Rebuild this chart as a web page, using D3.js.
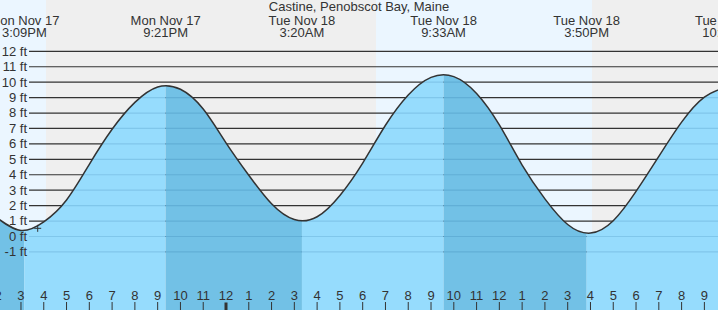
<!DOCTYPE html>
<html>
<head>
<meta charset="utf-8">
<script src="https://cdn.jsdelivr.net/npm/d3@7"></script>
<style>
  html, body { margin: 0; padding: 0; background: #fff; }
  svg { display: block; font-family: "Liberation Sans", Arial, sans-serif; }
</style>
</head>
<body>
<svg id="chart" width="718" height="310"></svg>
<script>
// ---------------- data ----------------
const title = "Castine, Penobscot Bay, Maine";

// hourly predicted heights (ft), first sample at 2 PM Mon Nov 17
const firstHour = "2025-11-17T14:00";
const hourlyHeights = [1.15, 0.39, 0.95, 2.37, 4.68, 6.95, 8.69, 9.69, 9.54, 8.26,
                       6.07, 3.97, 2.12, 1.10, 1.28, 2.66, 4.76, 7.21, 9.17, 10.31,
                       10.36, 9.27, 7.23, 4.63, 2.44, 0.78, 0.22, 1.02, 2.92, 5.19,
                       7.41, 9.03, 9.70];

// high / low tide events
const extremeTimes = ["2025-11-17T15:09", "2025-11-17T21:21", "2025-11-18T03:20",
                      "2025-11-18T09:33", "2025-11-18T15:50", "2025-11-18T22:03"];
const extremeTypes = ["L", "H", "L", "H", "L", "H"];

// sun events
const sunTimes = ["2025-11-17T16:06", "2025-11-18T06:35", "2025-11-18T16:04"];
const sunTypes = ["set", "rise", "set"];

// current-time marker
const markerTime = "2025-11-17T15:44";
const markerHeight = 0.53;

// y tick values (ft)
const yTickValues = [-1, 0, 1, 2, 3, 4, 5, 6, 7, 8, 9, 10, 11, 12];

// visible time window
const windowStart = "2025-11-17T14:04:44";
const windowEnd = "2025-11-18T21:35:53";

// ---------------- setup ----------------
const W = 718, H = 310;
const parse = d3.timeParse("%Y-%m-%dT%H:%M");
const parseS = d3.timeParse("%Y-%m-%dT%H:%M:%S");
const t0 = parseS(windowStart), t1 = parseS(windowEnd);

const x = d3.scaleTime().domain([t0, t1]).range([0, W]);
const y = d3.scaleLinear().domain([0, 12]).range([236.5, 51.3]);

const start = parse(firstHour);
const series = hourlyHeights.map((h, i) => ({ t: d3.timeHour.offset(start, i), h }));
const extremes = extremeTimes.map((s, i) => ({ t: parse(s), type: extremeTypes[i] }));
const suns = sunTimes.map((s, i) => ({ t: parse(s), type: sunTypes[i] }));

const svg = d3.select("#chart");
const textColor = "#333";

// ---------------- day / night background ----------------
const dayColor = "#ebf6ff", nightColor = "#efefef";
const bounds = [t0, ...suns.map(d => d.t), t1];
const bg = [];
for (let i = 0; i < bounds.length - 1; i++) {
  let isDay;
  if (i === 0) isDay = suns[0].type === "set";
  else isDay = suns[i - 1].type === "rise";
  bg.push({ a: bounds[i], b: bounds[i + 1], isDay });
}
svg.append("g").selectAll("rect").data(bg).join("rect")
  .attr("x", d => x(d.a)).attr("width", d => x(d.b) - x(d.a))
  .attr("y", 0).attr("height", H)
  .attr("fill", d => d.isDay ? dayColor : nightColor);

// ---------------- grid lines (above water) ----------------
const gridX0 = 29;
svg.append("g").selectAll("line").data(yTickValues).join("line")
  .attr("x1", gridX0).attr("x2", W)
  .attr("y1", d => y(d)).attr("y2", d => y(d))
  .attr("stroke", "#333").attr("stroke-width", 1.2);

// ---------------- water ----------------
const area = d3.area().x(d => x(d.t)).y0(H).y1(d => y(d.h)).curve(d3.curveNatural);
const line = d3.line().x(d => x(d.t)).y(d => y(d.h)).curve(d3.curveNatural);

svg.append("defs").append("clipPath").attr("id", "waterClip")
  .append("path").attr("d", area(series));

const lightWater = "#96dcfd", darkWater = "#72c1e6";
const wb = [t0, ...extremes.map(d => d.t).filter(t => t > t0 && t < t1), t1];
const segs = [];
for (let i = 0; i < wb.length - 1; i++) {
  const mid = new Date((wb[i].getTime() + wb[i + 1].getTime()) / 2);
  const next = extremes.find(e => e.t > mid);
  const falling = next ? next.type === "L" : extremes[extremes.length - 1].type === "H";
  segs.push({ a: wb[i], b: wb[i + 1], falling });
}
const wg = svg.append("g").attr("clip-path", "url(#waterClip)");
wg.selectAll("rect").data(segs).join("rect")
  .attr("x", d => x(d.a)).attr("width", d => x(d.b) - x(d.a))
  .attr("y", 0).attr("height", H)
  .attr("fill", d => d.falling ? darkWater : lightWater);
wg.append("g").selectAll("line").data(yTickValues).join("line")
  .attr("x1", gridX0).attr("x2", W)
  .attr("y1", d => y(d)).attr("y2", d => y(d))
  .attr("stroke", "rgb(0,70,130)").attr("stroke-opacity", 0.14).attr("stroke-width", 1.2);

// tide curve
svg.append("path").attr("d", line(series))
  .attr("fill", "none").attr("stroke", "#333").attr("stroke-width", 1.5);

// marker
svg.append("path")
  .attr("transform", `translate(${x(parse(markerTime))},${y(markerHeight)})`)
  .attr("d", "M-3.5,0H3.5M0,-3.5V3.5")
  .attr("stroke", "#333").attr("stroke-width", 1).attr("fill", "none");

// ---------------- y labels ----------------
svg.append("g").selectAll("text").data(yTickValues).join("text")
  .attr("x", 27).attr("y", d => y(d)).attr("dy", "0.34em")
  .attr("text-anchor", "end").attr("font-size", 13).attr("fill", textColor)
  .text(d => `${d} ft`);

// ---------------- hour axis ----------------
const hourTicks = d3.timeHour.range(d3.timeHour.floor(t0), d3.timeHour.ceil(t1));
const hfmt = d3.timeFormat("%-I");
const ax = svg.append("g");
ax.selectAll("line").data(hourTicks).join("line")
  .attr("x1", d => x(d)).attr("x2", d => x(d))
  .attr("y1", d => d.getHours() === 0 ? 302.5 : 302).attr("y2", H)
  .attr("stroke", "#333")
  .attr("stroke-width", d => d.getHours() === 0 ? 3 : 1);
ax.selectAll("text").data(hourTicks).join("text")
  .attr("x", d => x(d)).attr("y", 300)
  .attr("text-anchor", "middle").attr("font-size", 13).attr("fill", textColor)
  .text(d => hfmt(d));

// ---------------- title & extreme labels ----------------
svg.append("text").attr("x", 359).attr("y", 11)
  .attr("text-anchor", "middle").attr("font-size", 13).attr("fill", textColor)
  .text(title);

const dfmt = d3.timeFormat("%a %b %-d");
const tfmt = d3.timeFormat("%-I:%M%p");
const lg = svg.append("g").selectAll("g").data(extremes).join("g")
  .attr("transform", d => `translate(${x(d.t)},0)`);
lg.append("text").attr("y", 25).attr("text-anchor", "middle")
  .attr("font-size", 13).attr("fill", textColor).text(d => dfmt(d.t));
lg.append("text").attr("y", 36.5).attr("text-anchor", "middle")
  .attr("font-size", 13).attr("fill", textColor).text(d => tfmt(d.t));
</script>
</body>
</html>
